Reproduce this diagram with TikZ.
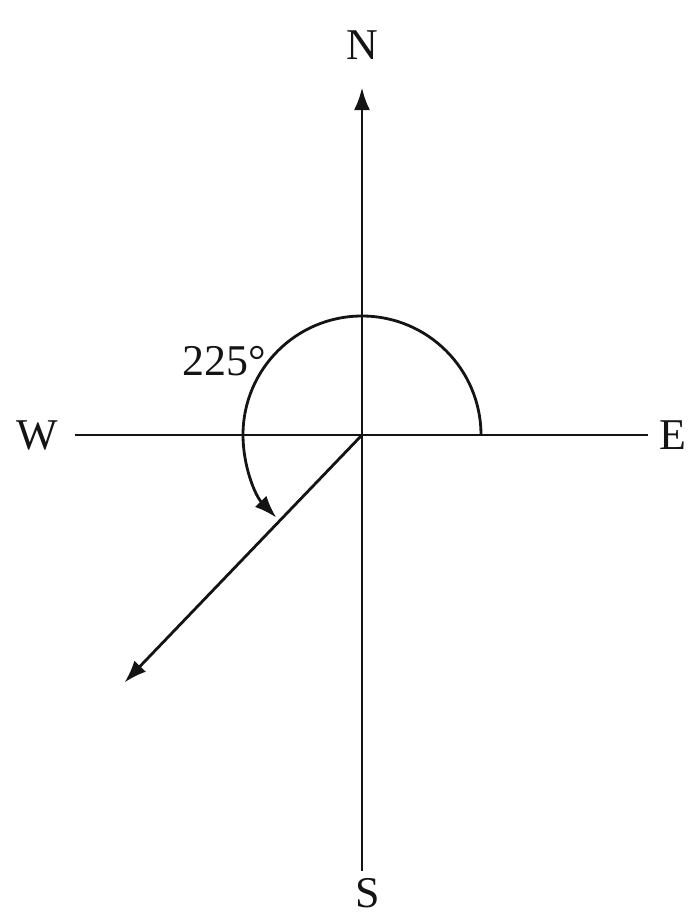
\documentclass[tikz,border=0pt]{standalone}
\usepackage{fontspec}
\setmainfont{Liberation Serif}
\usetikzlibrary{arrows.meta,positioning}
\definecolor{ink}{HTML}{141414}
\tikzset{>={Latex[length=4.5mm,width=3.2mm]},
  every node/.style={font=\fontsize{25}{30}\selectfont,text=ink},
  axisline/.style={draw=ink,line width=1.6pt},
  heading/.style={->,draw=ink,line width=1.6pt},
  turn/.style={->,draw=ink,line width=1.6pt}}
\begin{document}
\begin{tikzpicture}
\path[use as bounding box] (-7.24,-9.68) rectangle (6.62,8.7);
\coordinate (O) at (0,0);\coordinate (ntip) at (0,6.95);\coordinate (send) at (0,-8.72);
\coordinate (wend) at (-5.74,0);\coordinate (eend) at (5.72,0);\coordinate (swtip) at (-4.75,-4.95);
\node (N) at (0,7.8) {N};\node (S) at (0.12,-9.17) {S};\node (W) at (-6.5,0) {W};\node (E) at (6.22,0) {E};
\draw[heading] (O)--(ntip);\draw[axisline] (O)--(send);\draw[axisline] (wend)--(eend);
\draw[heading] (O)--(swtip);
\draw[turn] (O) ++(2.38,0) arc[start angle=0,end angle=224,radius=2.38];
\node (ang) at (-2.76,1.48) {225°};
\end{tikzpicture}
\end{document}
